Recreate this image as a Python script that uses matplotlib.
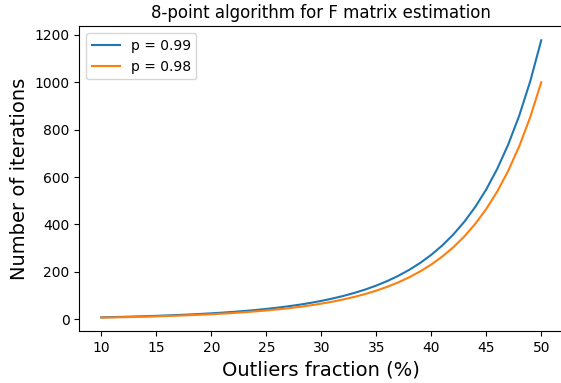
import numpy as np
import matplotlib
matplotlib.use("Agg")
import matplotlib.pyplot as plt

# Outliers fraction in percent
outliers = list(range(10, 51))

# Number of iterations, p = 0.99
iters_99 = [8.2, 9.2, 10.3, 11.6, 13.0, 14.5, 16.2, 18.1, 20.1, 22.5,
            25.1, 28.0, 31.3, 34.9, 39.0, 43.7, 48.9, 54.8, 61.4, 69.0,
            77.6, 87.3, 98.4, 111.1, 125.6, 142.2, 161.3, 183.2, 208.7, 237.9,
            271.9, 311.3, 357.3, 411.0, 473.8, 547.7, 634.6, 737.4, 859.1, 1003.9,
            1176.5]

# Number of iterations, p = 0.98
iters_98 = [7.0, 7.8, 8.8, 9.8, 11.0, 12.3, 13.7, 15.3, 17.1, 19.1,
            21.3, 23.8, 26.6, 29.7, 33.2, 37.1, 41.5, 46.5, 52.2, 58.6,
            65.9, 74.2, 83.6, 94.4, 106.7, 120.8, 137.0, 155.7, 177.3, 202.1,
            230.9, 264.5, 303.5, 349.1, 402.5, 465.2, 539.1, 626.4, 729.8, 852.8,
            999.5]

fig = plt.figure(figsize=(5.61, 3.83), dpi=100)
ax = fig.add_axes([0.1415, 0.1345, 0.8625, 0.7965])

ax.plot(outliers, iters_99, label="p = 0.99")
ax.plot(outliers, iters_98, label="p = 0.98")

ax.set_title("8-point algorithm for F matrix estimation", fontsize=12)
ax.set_xlabel("Outliers fraction (%)", fontsize=14)
ax.set_ylabel("Number of iterations", fontsize=14)
ax.legend(loc="upper left")

fig.savefig("out.png", dpi=100)
